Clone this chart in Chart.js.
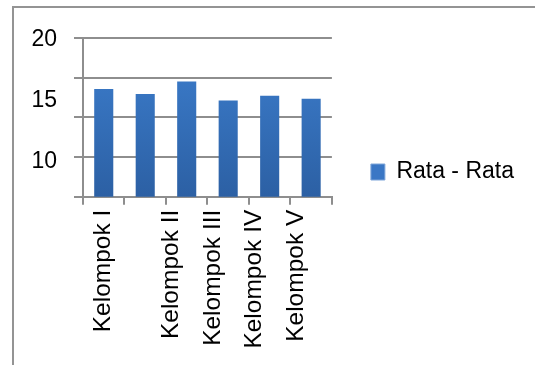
<!DOCTYPE html>
<html>
<head>
<meta charset="utf-8">
<script src="https://cdn.jsdelivr.net/npm/chart.js@4/dist/chart.umd.min.js"></script>
<style>
  html, body { margin: 0; padding: 0; background: #fff; overflow: hidden; }
  #wrap { position: relative; width: 535px; height: 365px; overflow: hidden; }
  #frame { position: absolute; left: 12px; top: 6px; width: 600px; height: 500px;
           border: 2px solid #949494; box-sizing: border-box; }
  #c { position: absolute; left: 0; top: 0; }
</style>
</head>
<body>
<div id="wrap">
  <div id="frame"></div>
  <canvas id="c" width="535" height="365"></canvas>
</div>
<script>
// Nilai rata-rata tiap kelompok
const categories = ['Kelompok I', 'Kelompok II', 'Kelompok III', 'Kelompok IV', 'Kelompok V', ''];
const rataRata = [15.96, 15.55, 16.59, 15.02, 15.41, 15.16];
const seriesName = 'Rata - Rata';
const yTickValues = [10, 15, 20];
const yRange = [7.12, 20.16];

const FONT = 'Liberation Sans, Arial, sans-serif';
const GRID = '#8e8e8e';

// Label pertama satu baris, selebihnya diawali baris kosong
const tickLabels = categories.map((c, i) => i === 0 ? [c] : ['', c]);

function barGradient(ctx) {
  const chart = ctx.chart;
  const area = chart.chartArea;
  if (!area) return '#3670b9';
  const g = chart.ctx.createLinearGradient(0, area.top, 0, area.bottom);
  g.addColorStop(0, '#3d7fcf');
  g.addColorStop(1, '#2c60a4');
  return g;
}

// Geser kotak legenda sedikit ke atas dari posisi tengahnya
const legendShift = {
  id: 'legendShift',
  afterLayout(chart) {
    const lg = chart.legend;
    if (!lg) return;
    lg.top -= 29.5;
    lg.bottom -= 29.5;
  }
};

new Chart(document.getElementById('c'), {
  type: 'bar',
  data: {
    labels: tickLabels,
    datasets: [{
      label: seriesName,
      data: rataRata,
      backgroundColor: barGradient,
      borderWidth: 0,
      categoryPercentage: 1,
      barPercentage: 0.46
    }]
  },
  plugins: [legendShift],
  options: {
    responsive: false,
    animation: false,
    devicePixelRatio: 1,
    layout: { padding: { left: 14, top: 38, right: 11, bottom: 0 } },
    plugins: {
      tooltip: { enabled: false },
      legend: {
        position: 'right',
        maxWidth: 300,
        labels: {
          boxWidth: 14,
          boxHeight: 16,
          padding: 39,
          color: '#000',
          font: { family: FONT, size: 23 },
          generateLabels: () => [{
            text: seriesName,
            fillStyle: '#3a77c5',
            strokeStyle: '#7fa6d9',
            lineWidth: 1,
            datasetIndex: 0
          }]
        }
      }
    },
    scales: {
      x: {
        type: 'category',
        offset: true,
        grid: {
          offset: true,
          drawOnChartArea: false,
          drawTicks: true,
          tickLength: 8,
          color: GRID,
          lineWidth: 2
        },
        border: { display: true, color: GRID, width: 2 },
        ticks: {
          autoSkip: false,
          minRotation: 90,
          maxRotation: 90,
          padding: 5,
          color: '#000',
          font: { family: FONT, size: 24.5, lineHeight: 1.08 }
        },
        afterFit: (s) => { s.height = 168.3; }
      },
      y: {
        position: 'left',
        weight: 1,
        min: yRange[0],
        max: yRange[1],
        grid: { display: false, drawTicks: false },
        border: { display: false },
        ticks: {
          padding: 17,
          color: '#000',
          font: { family: FONT, size: 23 }
        },
        afterBuildTicks: (s) => { s.ticks = yTickValues.map(v => ({ value: v })); },
        afterFit: (s) => { s.width = 60; }
      },
      grid: {
        position: 'left',
        weight: 0,
        min: 0,
        max: 4,
        ticks: { display: false, stepSize: 1 },
        grid: { color: GRID, lineWidth: 2, tickLength: 9, drawTicks: true },
        border: { display: true, color: GRID, width: 2 },
        afterFit: (s) => { s.width = 9; }
      }
    }
  }
});
</script>
</body>
</html>
